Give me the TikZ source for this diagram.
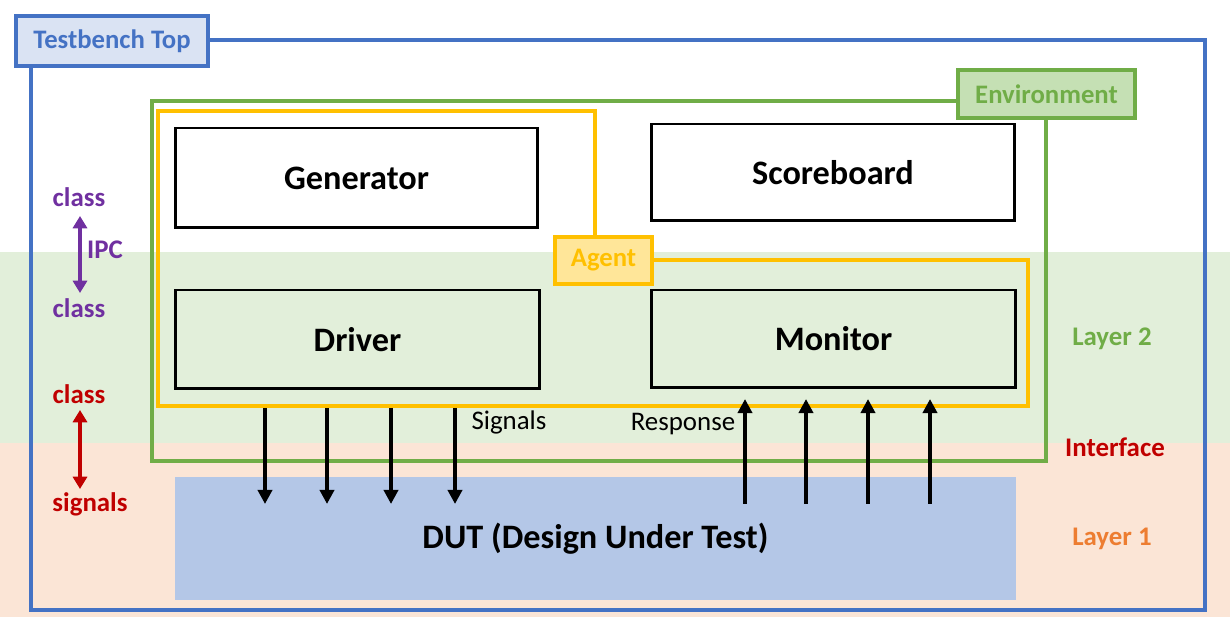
\documentclass[tikz,border=0pt]{standalone}
\usepackage{fontspec}
\setmainfont{Carlito}
\usetikzlibrary{positioning,arrows.meta}
\definecolor{tbblue}{HTML}{4472C4}
\definecolor{tbfill}{HTML}{DAE3F3}
\definecolor{envgreen}{HTML}{70AD47}
\definecolor{envfill}{HTML}{C5E0B4}
\definecolor{agentyel}{HTML}{FFC000}
\definecolor{agentfill}{HTML}{FFE699}
\definecolor{bandgreen}{HTML}{E2EFDA}
\definecolor{bandpeach}{HTML}{FBE5D6}
\definecolor{dutblue}{HTML}{B4C7E7}
\definecolor{ipcpurple}{HTML}{7030A0}
\definecolor{ifred}{HTML}{C00000}
\definecolor{l1orange}{HTML}{ED7D31}
\tikzset{block/.style={draw=black,line width=1.7pt,inner sep=0pt,
           font=\fontsize{19.5}{22}\selectfont\bfseries},
         tag/.style={line width=2.3pt,inner sep=0pt,
           font=\fontsize{15.2}{17}\selectfont\bfseries},
         side/.style={inner sep=0pt,font=\fontsize{15.3}{17}\selectfont\bfseries},
         plain/.style={inner sep=0pt,font=\fontsize{15.3}{17}\selectfont},
         wire/.style={line width=2pt,-{Triangle[length=8pt,width=8pt]}},
         twoway/.style={line width=2pt,{Triangle[length=7pt,width=8pt]}-{Triangle[length=7pt,width=8pt]}}}

\begin{document}
\begin{tikzpicture}[x=0.02cm,y=-0.02cm]
    \useasboundingbox (0,0) rectangle (1230,617);
    % layer bands
    \fill[bandgreen] (0,252) rectangle (1230,443);
    \fill[bandpeach] (0,443) rectangle (1230,617);

    % testbench top
    \draw[tbblue,line width=2.3pt] (31,40) rectangle (1205,610);
    \node[tag,draw=tbblue,fill=tbfill,text=tbblue,minimum width=3.84cm,
      minimum height=1.0cm] (TB) at (112,41) {Testbench Top};

    % environment
    \draw[envgreen,line width=2.3pt] (152,101) rectangle (1046,461);
    \node[tag,draw=envgreen,fill=envfill,text=envgreen,minimum width=3.54cm,
      minimum height=0.96cm] (ENV) at (1046.5,94) {Environment};

    % agent
    \draw[agentyel,line width=2.3pt] (595,237) -- (595,111) -- (158,111)
      -- (158,406) -- (1028,406) -- (1028,260) -- (652,260);
    \node[tag,draw=agentyel,fill=agentfill,text=agentyel,minimum width=1.94cm,
      minimum height=0.94cm] (AG) at (603.5,260.5) {Agent};

    \node[block,minimum width=7.26cm,minimum height=2.0cm] (GEN) at (356.5,178) {Generator};
    \node[block,minimum width=7.28cm,minimum height=1.94cm] (SB) at (833,172.5) {Scoreboard};
    \node[block,minimum width=7.3cm,minimum height=1.98cm] (DRV) at (357.5,339.5) {Driver};
    \node[block,minimum width=7.3cm,minimum height=1.96cm] (MON) at (833.5,339) {Monitor};

    \node[block,draw=none,fill=dutblue,minimum width=16.82cm,minimum height=2.46cm]
      (DUT) at (595.5,538.5) {DUT (Design Under Test)};

    \foreach \x [count=\i] in {265,327,391,455} {
      \coordinate (st\i) at (\x,408); \coordinate (sb\i) at (\x,504);
      \draw[wire] (st\i) -- (sb\i);
    }
    \foreach \x [count=\i] in {745,806,868,930} {
      \coordinate (rb\i) at (\x,504); \coordinate (rt\i) at (\x,399);
      \draw[wire] (rb\i) -- (rt\i);
    }
    \node[plain] (SIG) at (509,422) {Signals};
    \node[plain] (RESP) at (683,424) {Response};

    % left side legend
    \node[side,text=ipcpurple] (C1) at (79,197) {class};
    \node[side,text=ipcpurple] (C2) at (79,308) {class};
    \node[side,text=ipcpurple] (IPC) at (105,250) {IPC};
    \coordinate (ipca) at (80,216); \coordinate (ipcb) at (80,293);
    \draw[twoway,ipcpurple] (ipca) -- (ipcb);
    \node[side,text=ifred] (C3) at (79,394) {class};
    \node[side,text=ifred] (SG) at (90,504) {signals};
    \coordinate (ifa) at (80,410); \coordinate (ifb) at (80,489);
    \draw[twoway,ifred] (ifa) -- (ifb);

    % right side legend
    \node[side,text=envgreen] (L2) at (1112,339) {Layer 2};
    \node[side,text=ifred] (IF) at (1115,447) {Interface};
    \node[side,text=l1orange] (L1) at (1112,539) {Layer 1};
\end{tikzpicture}
\end{document}
